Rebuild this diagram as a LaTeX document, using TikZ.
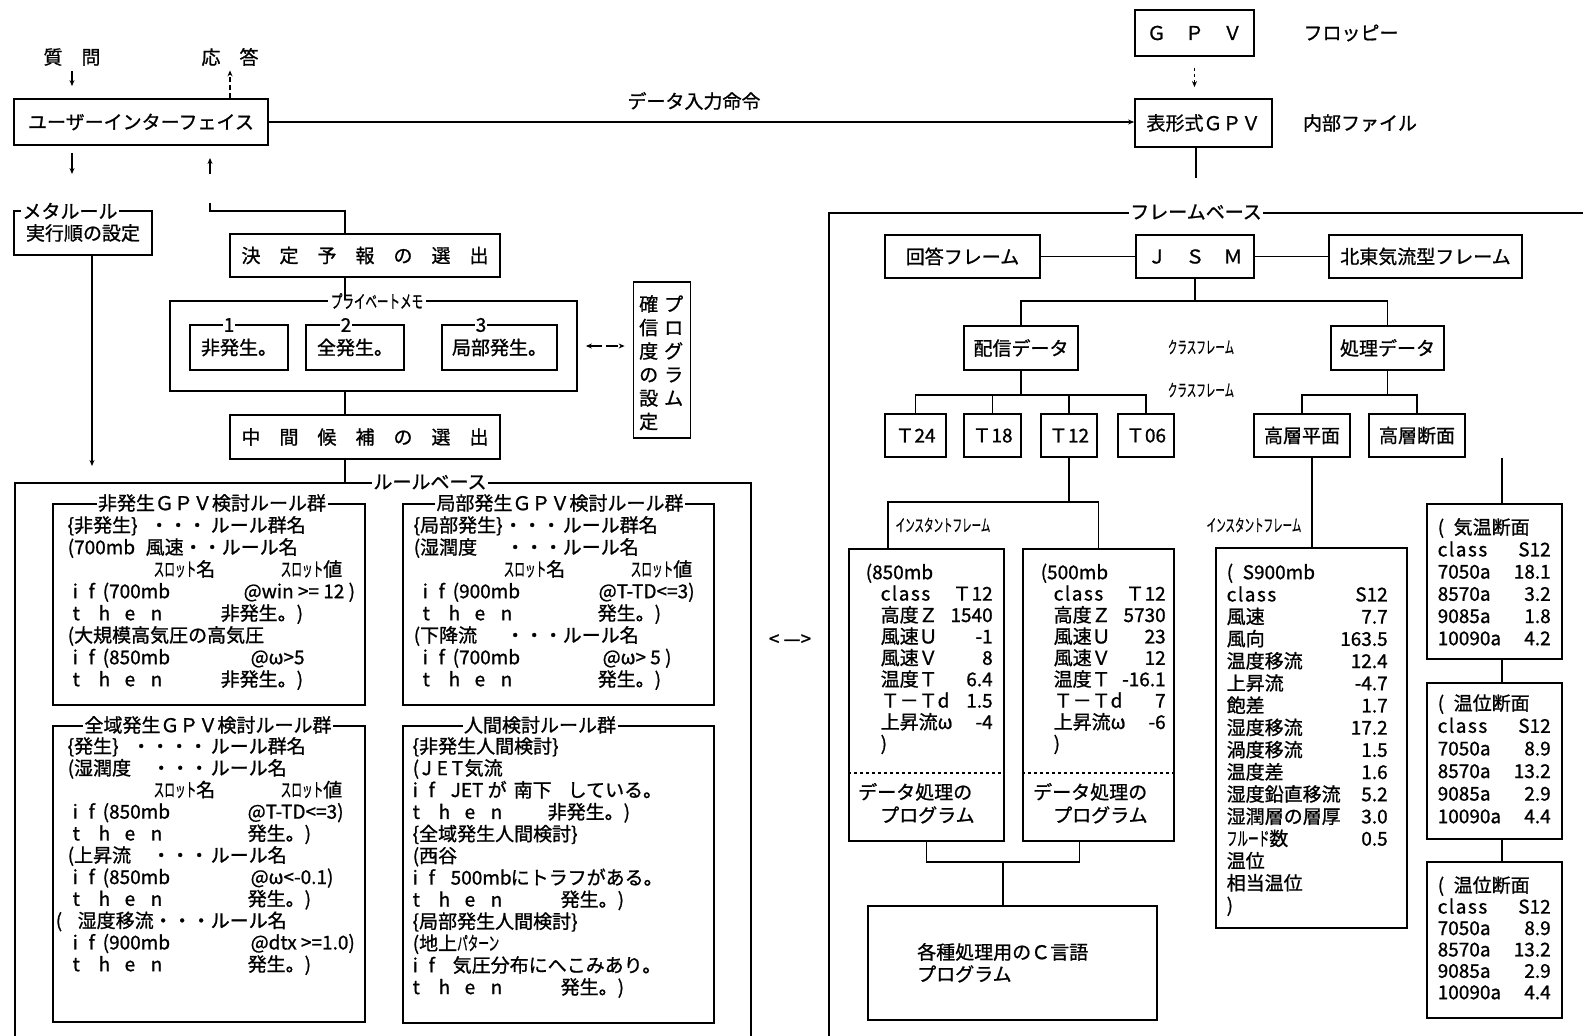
\documentclass[tikz,border=0pt]{standalone}
\usepackage{fontspec}
\usepackage{graphicx}
\newfontfamily\jp[FakeBold=1.0]{Noto Sans CJK JP}
\usetikzlibrary{arrows.meta}
\newcommand\tbx[2]{\makebox[0pt][l]{\hspace*{#1pt}#2}}
\newcommand\rbx[2]{\makebox[0pt][l]{\hspace*{#1pt}\makebox[0pt][r]{#2}}}
\newcommand\rl{\rule{0pt}{18pt}}
\newcommand\hw[1]{\scalebox{0.56}[1]{#1}}
\newcommand\Tthen{\makebox[26pt][l]{t}\makebox[26pt][l]{h}\makebox[26pt][l]{e}n}
\newcommand\Tif{\makebox[16pt][l]{i}f}
\newcommand\Tclass{c\kern1.5pt l\kern1.5pt a\kern1.5pt s\kern1.5pt s}
\newcommand\fs[2]{\jp\fontsize{#1}{#2}\selectfont}
\begin{document}
\begin{tikzpicture}[x=1pt,y=-1pt,
 every node/.style={font=\fs{19}{22}},
 bx/.style={draw, line width=1.8pt, inner sep=0pt},
 ibx/.style={draw, line width=1.5pt, inner sep=0pt},
 ln/.style={line width=1.2pt},
 arr/.style={line width=1.2pt,-{Stealth[length=6pt,width=5pt]}},
 ttl/.style={fill=white, inner sep=1.5pt},
 txt/.style={anchor=north west, inner sep=0pt, align=left},
]
\useasboundingbox (0,0) rectangle (1583,1036);

% ---------- top left ----------
\node (q) at (72,57) {質　問};
\node (ans) at (230,57) {応　答};
\node[bx, minimum width=254pt, minimum height=46pt] (ui) at (141,122) {ユーザーインターフェイス};
\draw[arr, shorten <=2pt, shorten >=12pt] (q.south) -- (q.south |- ui.north);
\draw[arr, dash pattern=on 5pt off 3pt, shorten >=1pt] (ans.south |- ui.north) -- (ans.south);
\coordinate (d1) at (72,174);
\draw[arr] (ui.south -| d1) ++(0,7) -- (d1);
\coordinate (u1) at (210,158);
\draw[arr] (u1) ++(0,16) -- (u1);

\node (dl) at (694,101) {データ入力命令};

% ---------- GPV ----------
\node[bx, minimum width=119pt, minimum height=46pt] (gpv) at (1194.5,33) {Ｇ　Ｐ　Ｖ};
\node (fl) at (1351,33) {フロッピー};
\node[bx, minimum width=137pt, minimum height=48pt] (tgpv) at (1203.5,123) {表形式ＧＰＶ};
\node (nf) at (1360,123) {内部ファイル};
\draw[arr, dashed, shorten >=11pt] (gpv.south) ++(0,11) -- (gpv.south |- tgpv.north);
\draw[arr] (ui.east) -- (ui.east -| tgpv.west);
\coordinate (g1) at (1196,178);
\draw[ln] (tgpv.south -| g1) -- (g1);

% ---------- meta rule ----------
\node[bx, minimum width=138pt, minimum height=44pt] (meta) at (83,233) {実行順の設定};
\node[ttl] (metat) at (70,211) {メタルール};
\coordinate (m1) at (92,466);
\draw[arr] (meta.south -| m1) -- (m1);

% ---------- decision chain ----------
\node[bx, minimum width=270pt, minimum height=43pt] (kettei) at (365,255.5) {決　定　予　報　の　選　出};
\node[bx, minimum width=407pt, minimum height=90pt] (memo) at (373.5,346) {};
\node[ttl, font=\fs{18}{20}, inner sep=3pt] (memot) at (377,301) {\scalebox{0.64}[1]{プライベートメモ}};
\node[ibx, minimum width=98pt, minimum height=45pt] (s1) at (239,347.5) {非発生。};
\node[ibx, minimum width=98pt, minimum height=45pt] (s2) at (355,347.5) {全発生。};
\node[ibx, minimum width=115pt, minimum height=45pt] (s3) at (499.5,347.5) {局部発生。};
\node[ttl, inner sep=1pt] (s1t) at (229,325) {1};
\node[ttl, inner sep=1pt] (s2t) at (346,325) {2};
\node[ttl, inner sep=1pt] (s3t) at (481,325) {3};
\node[bx, minimum width=57pt, minimum height=156pt] (kak) at (662,360) {};
\node[txt, font=\fs{19}{23.5}] (kakt) at (639,293) {\rl 確\hspace{6pt}プ\\信\hspace{6pt}ロ\\度\hspace{6pt}グ\\の\hspace{6pt}ラ\\設\hspace{6pt}ム\\定};
\draw[line width=1.2pt, {Stealth[length=6pt,width=5pt]}-{Stealth[length=6pt,width=5pt]}, dash pattern=on 12pt off 4pt, shorten <=8pt, shorten >=8pt] (memo.east) -- (memo.east -| kak.west);
\node[bx, minimum width=270pt, minimum height=44pt] (chuukan) at (365,437) {中　間　候　補　の　選　出};

\coordinate (r1) at (210,203);
\coordinate (r2) at (345,211);
\draw[ln] (r1) |- (r2) -- (r2 |- kettei.north);
\draw[ln] (kettei.south -| r2) -- (memo.north -| r2);
\draw[ln] (memo.south -| r2) -- (chuukan.north -| r2);

% ---------- rule base ----------
\node[bx, anchor=north west, minimum width=736pt, minimum height=640pt] (rb) at (14,482) {};
\node[ttl] (rbt) at (430,482) {ルールベース};
\draw[ln] (chuukan.south -| r2) -- (rb.north -| r2);

\node[ibx, anchor=north west, minimum width=312pt, minimum height=201pt] (ra) at (52,503) {};
\node[ttl] (rat) at (212,503) {非発生ＧＰＶ検討ルール群};
\node[txt] (ratx) at (67,514) {\rl\tbx{0}{\{非発生\}}\tbx{82}{・・・}\tbx{143}{ルール群名}\\
\tbx{0}{(700mb}\tbx{78}{風速・・}\tbx{154}{ルール名}\\
\tbx{86}{\hw{スロット}名}\tbx{213}{\hw{スロット}値}\\
\tbx{5}{\Tif}\tbx{35}{(700mb}\tbx{176}{@win >= 12 )}\\
\tbx{5}{\Tthen}\tbx{153}{非発生。)}\\
\tbx{0}{(大規模高気圧の高気圧}\\
\tbx{5}{\Tif}\tbx{35}{(850mb}\tbx{183}{@ω>5}\\
\tbx{5}{\Tthen}\tbx{153}{非発生。)}};

\node[ibx, anchor=north west, minimum width=311pt, minimum height=201pt] (rbb) at (402,503) {};
\node[ttl] (rbbt) at (560,503) {局部発生ＧＰＶ検討ルール群};
\node[txt] (rbbx) at (413,514) {\rl\tbx{0}{\{局部発生\}}\tbx{90}{・・・}\tbx{149}{ルール群名}\\
\tbx{0}{(湿潤度}\tbx{92}{・・・}\tbx{149}{ルール名}\\
\tbx{90}{\hw{スロット}名}\tbx{217}{\hw{スロット}値}\\
\tbx{9}{\Tif}\tbx{39}{(900mb}\tbx{185}{@T-TD<=3)}\\
\tbx{9}{\Tthen}\tbx{184}{発生。)}\\
\tbx{0}{(下降流}\tbx{92}{・・・}\tbx{149}{ルール名}\\
\tbx{9}{\Tif}\tbx{39}{(700mb}\tbx{189}{@ω> 5 )}\\
\tbx{9}{\Tthen}\tbx{184}{発生。)}};

\node[ibx, anchor=north west, minimum width=312pt, minimum height=296pt] (rc) at (52,725) {};
\node[ttl] (rct) at (208,725) {全域発生ＧＰＶ検討ルール群};
\node[txt, font=\fs{19}{21.8}] (rcx) at (67,735) {\rl\tbx{0}{\{発生\}}\tbx{64}{・・・・}\tbx{143}{ルール群名}\\
\tbx{0}{(湿潤度}\tbx{84}{・・・}\tbx{143}{ルール名}\\
\tbx{86}{\hw{スロット}名}\tbx{213}{\hw{スロット}値}\\
\tbx{5}{\Tif}\tbx{35}{(850mb}\tbx{180}{@T-TD<=3)}\\
\tbx{5}{\Tthen}\tbx{180}{発生。)}\\
\tbx{0}{(上昇流}\tbx{84}{・・・}\tbx{143}{ルール名}\\
\tbx{5}{\Tif}\tbx{35}{(850mb}\tbx{183}{@ω<-0.1)}\\
\tbx{5}{\Tthen}\tbx{180}{発生。)}\\
\tbx{-12}{(}\tbx{10}{湿度移流・・・ルール名}\\
\tbx{5}{\Tif}\tbx{35}{(900mb}\tbx{183}{@dtx >=1.0)}\\
\tbx{5}{\Tthen}\tbx{180}{発生。)}};

\node[ibx, anchor=north west, minimum width=311pt, minimum height=297pt] (rd) at (402,725) {};
\node[ttl] (rdt) at (540,725) {人間検討ルール群};
\node[txt, font=\fs{19}{21.9}] (rdx) at (412,735) {\rl\tbx{0}{\{非発生人間検討\}}\\
\tbx{0}{(}\tbx{9}{J}\tbx{24}{E}\tbx{39}{T}\tbx{52}{気流}\\
\tbx{0}{\Tif}\tbx{38}{JET が}\tbx{101}{南下}\tbx{155}{している。}\\
\tbx{0}{\Tthen}\tbx{135}{非発生。)}\\
\tbx{0}{\{全域発生人間検討\}}\\
\tbx{0}{(西谷}\\
\tbx{0}{\Tif}\tbx{38}{500mb}\tbx{98}{にトラフがある。}\\
\tbx{0}{\Tthen}\tbx{148}{発生。)}\\
\tbx{0}{\{局部発生人間検討\}}\\
\tbx{0}{(地上\hw{パターン}}\\
\tbx{0}{\Tif}\tbx{40}{気圧分布にへこみあり。}\\
\tbx{0}{\Tthen}\tbx{148}{発生。)}};

\node (lr) at (790,640) {< —>};

% ---------- frame base ----------
\node[bx, anchor=north west, minimum width=800pt, minimum height=900pt] (fb) at (828,212) {};
\node[ttl] (fbt) at (1196,212) {フレームベース};
\node[bx, minimum width=155pt, minimum height=43pt] (kaitou) at (962.5,256.5) {回答フレーム};
\node[bx, minimum width=118pt, minimum height=43pt] (jsm) at (1195,256.5) {Ｊ　Ｓ　Ｍ};
\node[bx, minimum width=193pt, minimum height=43pt] (hoku) at (1425.5,256.5) {北東気流型フレーム};
\draw[ln] (kaitou.east) -- (jsm.west);
\draw[ln] (jsm.east) -- (hoku.west);
\node[bx, minimum width=114pt, minimum height=44pt] (haishin) at (1021,348) {配信データ};
\node[bx, minimum width=113pt, minimum height=44pt] (shori) at (1387.5,348) {処理データ};
\coordinate (bus1) at (1195,301);
\draw[ln] (jsm.south) -- (bus1);
\draw[ln] (haishin.north) |- (bus1) -| (shori.north);
\node[font=\fs{17}{20}] (cf1) at (1201,347) {\hw{クラスフレーム}};
\node[font=\fs{17}{20}] (cf2) at (1201,390) {\hw{クラスフレーム}};

\node[bx, minimum width=61pt, minimum height=43pt] (t24) at (915.5,435.5) {Ｔ24};
\node[bx, minimum width=57pt, minimum height=43pt] (t18) at (992.5,435.5) {Ｔ18};
\node[bx, minimum width=56pt, minimum height=43pt] (t12) at (1069,435.5) {Ｔ12};
\node[bx, minimum width=56pt, minimum height=43pt] (t06) at (1146,435.5) {Ｔ06};
\coordinate (bus2) at (1021,395);
\draw[ln] (haishin.south) -- (bus2);
\draw[ln] (t24.north) |- (bus2) -| (t06.north);
\draw[ln] (t18.north) -- (t18.north |- bus2);
\draw[ln] (t12.north) -- (t12.north |- bus2);

\node[bx, minimum width=96pt, minimum height=43pt] (kh) at (1302,435.5) {高層平面};
\node[bx, minimum width=96pt, minimum height=43pt] (kd) at (1417,435.5) {高層断面};
\coordinate (bus3) at (1387.5,395);
\draw[ln] (shori.south) -- (bus3);
\draw[ln] (kh.north) |- (bus3) -| (kd.north);

% instance frames (T12)
\node[bx, anchor=north west, minimum width=155pt, minimum height=292pt] (f850) at (848,548) {};
\node[bx, anchor=north west, minimum width=151pt, minimum height=292pt] (f500) at (1022,548) {};
\coordinate (ds) at (0,773);
\draw[line width=1.2pt, dashed] (f850.west |- ds) -- (f850.east |- ds);
\draw[line width=1.2pt, dashed] (f500.west |- ds) -- (f500.east |- ds);
\coordinate (bus4) at (1069,502);
\draw[ln] (t12.south) -- (bus4);
\draw[ln] ([xshift=-38.5pt]f850.north) |- (bus4) -| (f500.north);
\node[font=\fs{17}{20}] (inst1) at (943,525) {\hw{インスタントフレーム}};

\node[txt, font=\fs{19}{21.4}] (f850x) at (865,561) {\rl\tbx{0}{(850mb}\\
\tbx{15}{\Tclass}\rbx{127}{Ｔ12}\\
\tbx{15}{高度Ｚ}\rbx{127}{1540}\\
\tbx{15}{風速Ｕ}\rbx{127}{-1}\\
\tbx{15}{風速Ｖ}\rbx{127}{8}\\
\tbx{15}{温度Ｔ}\rbx{127}{6.4}\\
\tbx{15}{Ｔ－Ｔd}\rbx{127}{1.5}\\
\tbx{15}{上昇流ω}\rbx{127}{-4}\\
\tbx{15}{)}};
\node[txt, font=\fs{19}{21.4}] (f500x) at (1040,561) {\rl\tbx{0}{(500mb}\\
\tbx{13}{\Tclass}\rbx{125}{Ｔ12}\\
\tbx{13}{高度Ｚ}\rbx{125}{5730}\\
\tbx{13}{風速Ｕ}\rbx{125}{23}\\
\tbx{13}{風速Ｖ}\rbx{125}{12}\\
\tbx{13}{温度Ｔ}\rbx{125}{-16.1}\\
\tbx{13}{Ｔ－Ｔd}\rbx{125}{7}\\
\tbx{13}{上昇流ω}\rbx{125}{-6}\\
\tbx{13}{)}};
\node[txt, font=\fs{19}{23}] (f850p) at (858,781) {\rl データ処理の\\\tbx{22}{プログラム}};
\node[txt, font=\fs{19}{23}] (f500p) at (1033,781) {\rl データ処理の\\\tbx{20}{プログラム}};

\node[bx, anchor=north west, minimum width=289pt, minimum height=114pt] (cprog) at (867,905) {};
\node[txt, font=\fs{19}{22}] (cprogx) at (917,941) {\rl 各種処理用のＣ言語\\プログラム};
\coordinate (b1) at (1003,862);
\draw[ln] (f850.south) |- (b1);
\draw[ln] ([xshift=-19pt]f500.south) |- (b1);
\draw[ln] (b1) -- (b1 |- cprog.north);

% high-level plane instance
\node[bx, anchor=north west, minimum width=191pt, minimum height=380pt] (s900) at (1215,547) {};
\draw[ln] ([xshift=10pt]kh.south) -- ([xshift=10pt]kh.south |- s900.north);
\node[font=\fs{17}{20}] (inst2) at (1254,525) {\hw{インスタントフレーム}};
\node[txt, font=\fs{19}{22.2}] (s900x) at (1226,561) {\rl\tbx{0}{(}\tbx{16}{S900mb}\\
\tbx{0}{\Tclass}\rbx{161}{S12}\\
\tbx{0}{風速}\rbx{161}{7.7}\\
\tbx{0}{風向}\rbx{161}{163.5}\\
\tbx{0}{温度移流}\rbx{161}{12.4}\\
\tbx{0}{上昇流}\rbx{161}{-4.7}\\
\tbx{0}{飽差}\rbx{161}{1.7}\\
\tbx{0}{湿度移流}\rbx{161}{17.2}\\
\tbx{0}{渦度移流}\rbx{161}{1.5}\\
\tbx{0}{温度差}\rbx{161}{1.6}\\
\tbx{0}{湿度鉛直移流}\rbx{161}{5.2}\\
\tbx{0}{湿潤層の層厚}\rbx{161}{3.0}\\
\tbx{0}{\hw{フルード}数}\rbx{161}{0.5}\\
\tbx{0}{温位}\\
\tbx{0}{相当温位}\\
\tbx{0}{)}};

% cross sections
\node[bx, anchor=north west, minimum width=135pt, minimum height=155pt] (kion) at (1426,503) {};
\node[bx, anchor=north west, minimum width=135pt, minimum height=156pt] (on1) at (1426,682) {};
\node[bx, anchor=north west, minimum width=135pt, minimum height=156pt] (on2) at (1426,861) {};
\coordinate (kx) at (1502,0);
\draw[ln] (kd.south -| kx) -- (kion.north -| kx);
\draw[ln] (kion.south -| kx) -- (on1.north -| kx);
\draw[ln] (on1.south -| kx) -- (on2.north -| kx);
\node[txt, font=\fs{19}{22.2}] (kionx) at (1437,516) {\rl\tbx{0}{(}\tbx{16}{気温断面}\\
\tbx{0}{\Tclass}\rbx{113}{S12}\\
\tbx{0}{7050a}\rbx{113}{18.1}\\
\tbx{0}{8570a}\rbx{113}{3.2}\\
\tbx{0}{9085a}\rbx{113}{1.8}\\
\tbx{0}{10090a}\rbx{113}{4.2}};
\node[txt, font=\fs{19}{22.6}] (on1x) at (1437,692) {\rl\tbx{0}{(}\tbx{16}{温位断面}\\
\tbx{0}{\Tclass}\rbx{113}{S12}\\
\tbx{0}{7050a}\rbx{113}{8.9}\\
\tbx{0}{8570a}\rbx{113}{13.2}\\
\tbx{0}{9085a}\rbx{113}{2.9}\\
\tbx{0}{10090a}\rbx{113}{4.4}};
\node[txt, font=\fs{19}{21.4}] (on2x) at (1437,874) {\rl\tbx{0}{(}\tbx{16}{温位断面}\\
\tbx{0}{\Tclass}\rbx{113}{S12}\\
\tbx{0}{7050a}\rbx{113}{8.9}\\
\tbx{0}{8570a}\rbx{113}{13.2}\\
\tbx{0}{9085a}\rbx{113}{2.9}\\
\tbx{0}{10090a}\rbx{113}{4.4}};
\end{tikzpicture}
\end{document}
